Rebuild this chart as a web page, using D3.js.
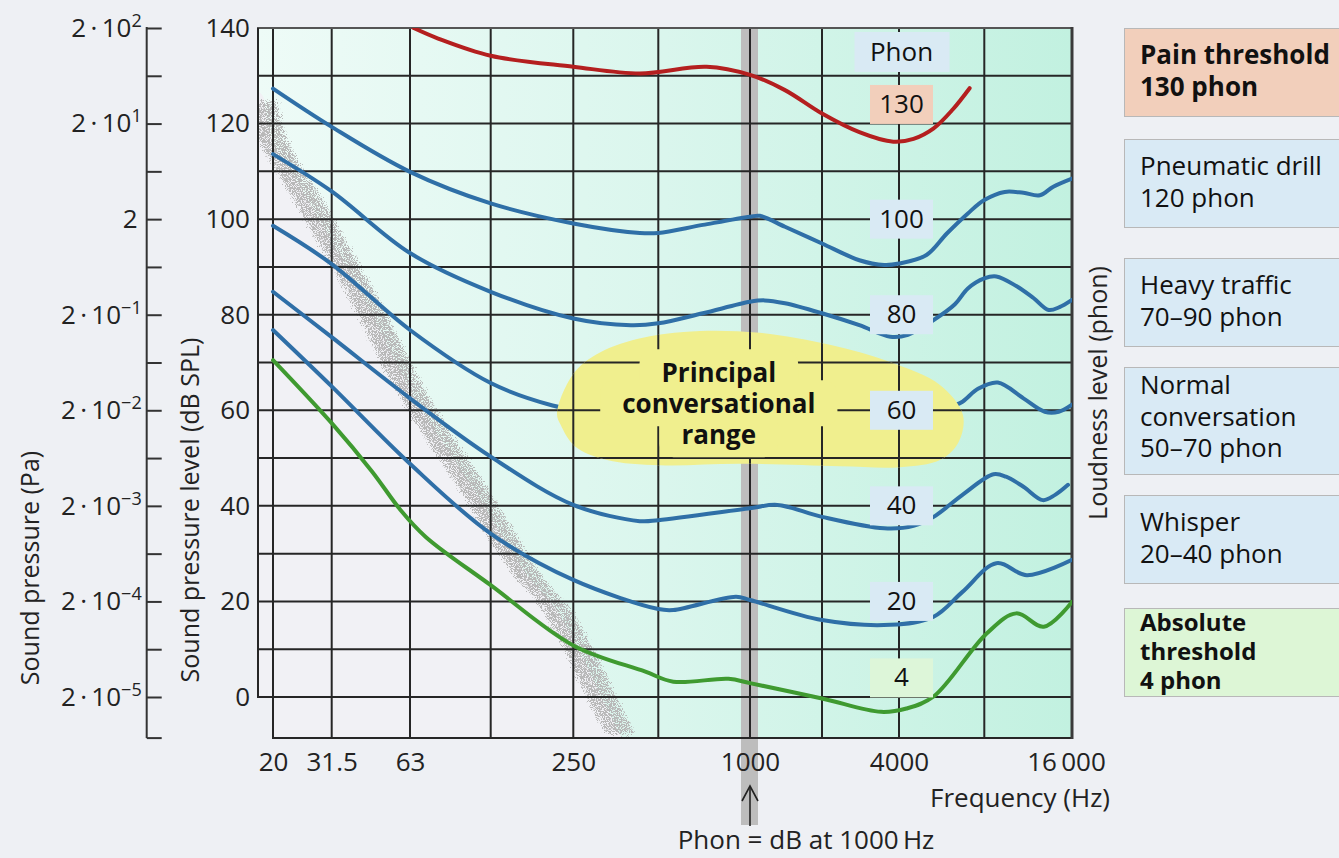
<!DOCTYPE html>
<html>
<head>
<meta charset="utf-8">
<script src="https://cdn.jsdelivr.net/npm/d3@7"></script>
<style>
html, body { margin: 0; padding: 0; background: #eef0f4; }
svg { display: block; font-family: "Open Sans", sans-serif; }
</style>
</head>
<body>
<div id="chart"></div>
<script>
// frequency grid (Hz) and the ones that get a label
const freqTicks = [20, 31.5, 63, 125, 250, 500, 1000, 2000, 4000, 8000, 16000];
const freqLabels = [20, 31.5, 63, 250, 1000, 4000, 16000];
const dbLabels = [0, 20, 40, 60, 80, 100, 120, 140];
const dbGrid = d3.range(0, 131, 10);

// equal loudness contours, [frequency Hz, dB SPL]
const phon130 = [[65, 140], [80, 137.8], [125, 134.2], [250, 131.9], [430, 130.5], [720, 131.9], [1000, 130.2],
  [1400, 127], [2000, 122.1], [2800, 118.2], [3800, 116.2], [4500, 116.8], [5300, 119], [6200, 123], [7100, 127.4]];
const phon100 = [[20, 127.3], [31.5, 119.3], [63, 109.9], [125, 103.3], [250, 99.1], [430, 97.1], [500, 97.1],
  [700, 98.8], [1000, 100.5], [1100, 100.7], [1400, 98.4], [2000, 94.9], [2800, 91.4], [3500, 90.4], [4000, 90.7],
  [5000, 92.5], [5900, 97], [7000, 101.2], [8000, 104], [9400, 105.7], [10900, 105.5], [12400, 105],
  [13800, 106.8], [16000, 108.5]];
const phon80 = [[20, 113.6], [31.5, 105.8], [63, 92.9], [125, 84.8], [250, 79.2], [400, 77.8], [500, 78.2],
  [700, 80.3], [1000, 82.7], [1150, 83], [1400, 82.4], [2000, 80.3], [2800, 77.8], [3700, 75.4], [4300, 75.8],
  [5300, 78.9], [6300, 82.2], [7000, 85.5], [8000, 87.6], [8800, 88], [10300, 86], [11800, 83.5], [13300, 81],
  [14500, 81.6], [16000, 83.1]];
const phon60 = [[20, 98.6], [31.5, 90.6], [63, 76.8], [125, 65.7], [210, 61], [250, 60.2], [400, 58.6], [600, 58.4],
  [1000, 60], [1400, 60.5], [2000, 58.6], [3000, 56], [4000, 55.4], [5000, 57.5], [6000, 60.5], [6700, 61.8],
  [7600, 64.5], [8900, 65.8], [10900, 62.5], [12900, 59.7], [14400, 59.7], [16000, 61.2]];
const phon40 = [[20, 84.8], [31.5, 75.3], [63, 62.5], [125, 50.3], [250, 40.2], [430, 36.8], [500, 37], [1000, 39.5],
  [1300, 40.2], [2000, 37.7], [3500, 35.3], [4500, 35.8], [5300, 37.7], [6700, 42.3], [8600, 46.6], [9500, 46.1],
  [10900, 44], [12700, 41.2], [14000, 42.3], [15500, 44.4]];
const phon20 = [[20, 76.8], [31.5, 65], [63, 48.8], [125, 34.2], [250, 24.5], [500, 18.4], [560, 18.2], [900, 21],
  [1000, 20.3], [2000, 16.1], [3700, 15.1], [5300, 16.8], [6700, 22], [8800, 28], [11200, 25.5], [16000, 28.7]];
const phon4 = [[20, 70.5], [31.5, 57.3], [45, 47.2], [58, 39.1], [72, 33.5], [125, 23.4], [250, 10.8], [450, 5.3],
  [560, 3.2], [850, 3.8], [1000, 2.9], [2000, -0.3], [3400, -3.1], [4250, -2.4], [5300, 0.1], [8150, 13.3],
  [10300, 17.5], [12800, 14.7], [16000, 19.9]];

const phonLevels = [130, 100, 80, 60, 40, 20, 4];

// scattered band of the hearing threshold, centre line [Hz, dB]
const bandCenter = [[18.4, 126], [19.5, 118], [26.2, 104], [42.1, 83.1], [66.3, 62.1], [103, 45.4], [175, 24.5],
  [205, 20.3], [258, 10.5], [310, 0.8], [375, -9]];

// outline of the "principal conversational range" patch [Hz, dB]
const speechArea = [[218, 59.4], [253, 68], [323, 72.6], [467, 75.5], [685, 76.6], [1101, 76.2], [2148, 73.7],
  [3690, 70.1], [5580, 65.3], [6727, 59], [6460, 53.1], [5580, 49.6], [4030, 48.1], [2352, 48.3], [926, 48.8],
  [506, 48.5], [329, 49.6], [253, 52.5], [225, 56.9]];

const sideNotes = [
  ["Pain threshold", "130 phon"],
  ["Pneumatic drill", "120 phon"],
  ["Heavy traffic", "70–90 phon"],
  ["Normal", "conversation", "50–70 phon"],
  ["Whisper", "20–40 phon"],
  ["Absolute", "threshold", "4 phon"]
];

const W = 1339, H = 858;
const svg = d3.select("#chart").append("svg").attr("width", W).attr("height", H);

// the printed frequency axis is not perfectly logarithmic, so use a piecewise log scale
const x = d3.scaleLog().domain(freqTicks)
  .range([273, 331.7, 410, 490.7, 573.3, 658.3, 750, 822, 899, 984.3, 1072]);
const y = d3.scaleLinear().domain([0, 140]).range([697, 28]);

const xLeft = 258, xRight = x(16000), x20 = x(20);
const yTop = y(140), yZero = y(0), yBottom = y(-8.6);
const ink = "#262626";

svg.append("rect").attr("width", W).attr("height", H).attr("fill", "#eef0f4");

const defs = svg.append("defs");
const grad = defs.append("linearGradient").attr("id", "plotGrad")
  .attr("gradientUnits", "userSpaceOnUse").attr("x1", xLeft).attr("x2", xRight).attr("y1", 0).attr("y2", 0);
grad.append("stop").attr("offset", "0").attr("stop-color", "#eefbf7");
grad.append("stop").attr("offset", "0.5").attr("stop-color", "#daf6ed");
grad.append("stop").attr("offset", "1").attr("stop-color", "#c2f1e0");

const outline = [[xLeft, yTop], [xRight, yTop], [xRight, yBottom], [x20, yBottom], [x20, yZero], [xLeft, yZero]];
defs.append("clipPath").attr("id", "plotClip").append("polygon").attr("points", outline.join(" "));

// speckle texture for the threshold band
const f = defs.append("filter").attr("id", "speckle").attr("filterUnits", "userSpaceOnUse")
  .attr("x", 200).attr("y", 0).attr("width", 520).attr("height", 800)
  .attr("color-interpolation-filters", "sRGB");
f.append("feGaussianBlur").attr("in", "SourceAlpha").attr("stdDeviation", 5).attr("result", "soft");
f.append("feTurbulence").attr("type", "fractalNoise").attr("baseFrequency", 1.2)
  .attr("numOctaves", 1).attr("seed", 7).attr("result", "noise");
f.append("feColorMatrix").attr("in", "noise").attr("type", "matrix")
  .attr("values", "0 0 0 0 0  0 0 0 0 0  0 0 0 0 0  1 0 0 0 0").attr("result", "na");
f.append("feComposite").attr("in", "soft").attr("in2", "na").attr("operator", "arithmetic")
  .attr("k1", 0).attr("k2", 1).attr("k3", 1).attr("k4", -1.42).attr("result", "sum");
f.append("feColorMatrix").attr("in", "sum").attr("type", "matrix")
  .attr("values", "0 0 0 0 0.72  0 0 0 0 0.72  0 0 0 0 0.72  0 0 0 14 0");

const smooth = d3.line().curve(d3.curveCatmullRom.alpha(0.5));
const back = svg.append("g").attr("clip-path", "url(#plotClip)");

back.append("polygon").attr("points", outline.join(" ")).attr("fill", "url(#plotGrad)");

const bandPx = bandCenter.map(d => [x(d[0]), y(d[1])]);
back.append("path")
  .attr("d", smooth([[xLeft - 6, bandPx[0][1] - 6], ...bandPx]) + `L${xLeft - 6},${yBottom + 6}Z`)
  .attr("fill", "#f1f1f5");
back.append("path")
  .attr("d", smooth(bandPx.map(p => [p[0] - 21, p[1]])) +
    smooth(bandPx.map(p => [p[0] + 21, p[1]]).reverse()).replace("M", "L") + "Z")
  .attr("fill", "#000").attr("filter", "url(#speckle)");

// grey marker at 1000 Hz
svg.append("rect").attr("x", x(1000) - 9).attr("y", yTop).attr("width", 17).attr("height", 825 - yTop)
  .attr("fill", "#bdbdbd");

function drawGrid(g) {
  g.selectAll(".vg").data(freqTicks).join("line").attr("class", "vg")
    .attr("x1", d => x(d)).attr("x2", d => x(d)).attr("y1", yTop).attr("y2", yBottom)
    .attr("stroke", ink).attr("stroke-width", 2);
  g.selectAll(".hg").data(dbGrid).join("line").attr("class", "hg")
    .attr("x1", xLeft).attr("x2", xRight).attr("y1", d => y(d)).attr("y2", d => y(d))
    .attr("stroke", ink).attr("stroke-width", 2);
}
const grid = svg.append("g");
drawGrid(grid);
grid.append("line").attr("x1", xLeft - 1).attr("x2", xRight).attr("y1", yTop).attr("y2", yTop)
  .attr("stroke", "#555").attr("stroke-width", 2);
grid.append("line").attr("x1", xLeft).attr("x2", xLeft).attr("y1", yTop).attr("y2", yZero + 1)
  .attr("stroke", ink).attr("stroke-width", 2);
grid.append("line").attr("x1", x20 - 1).attr("x2", xRight).attr("y1", yBottom).attr("y2", yBottom)
  .attr("stroke", ink).attr("stroke-width", 2);
grid.append("line").attr("x1", xRight).attr("x2", xRight).attr("y1", yTop - 1).attr("y2", yBottom + 1)
  .attr("stroke", "#3a3a3a").attr("stroke-width", 3);

// contours
const contours = [
  { data: phon130, color: "#b41f1f" },
  { data: phon100, color: "#2f6fa7" },
  { data: phon80, color: "#2f6fa7" },
  { data: phon60, color: "#2f6fa7" },
  { data: phon40, color: "#2f6fa7" },
  { data: phon20, color: "#2f6fa7" },
  { data: phon4, color: "#3f9a30" }
];
const curve = d3.line().x(d => x(d[0])).y(d => y(d[1])).curve(d3.curveCatmullRom.alpha(0.5));
svg.append("g").attr("clip-path", "url(#plotClip)")
  .selectAll(".contour").data(contours).join("path").attr("class", "contour")
  .attr("d", d => curve(d.data)).attr("fill", "none").attr("stroke", d => d.color)
  .attr("stroke-width", 4).attr("stroke-linecap", "round");

// conversational range patch
const patch = d3.line().x(d => x(d[0])).y(d => y(d[1])).curve(d3.curveCatmullRomClosed.alpha(0.5));
const yellow = "#f0ef8e";
svg.append("path").attr("d", patch(speechArea)).attr("fill", yellow);
defs.append("clipPath").attr("id", "patchClip").append("path").attr("d", patch(speechArea));
drawGrid(svg.append("g").attr("clip-path", "url(#patchClip)"));

// label of the patch, with a yellow knock-out behind each line
const patchLines = ["Principal", "conversational", "range"];
const knock = svg.append("g");
const patchLabel = svg.append("text").attr("text-anchor", "middle").attr("font-weight", "bold")
  .attr("font-size", 26).attr("fill", "#111");
patchLines.forEach((l, i) => {
  const t = patchLabel.append("tspan").attr("x", x(790)).attr("y", y(59.4) + (i - 1) * 31).text(l);
  const b = t.node().getBBox();
  knock.append("rect").attr("x", b.x - 22).attr("y", b.y - 5).attr("width", b.width + 44)
    .attr("height", b.height + 10).attr("rx", 14).attr("fill", yellow);
});

// phon tags along 4000 Hz
const tagX = x(4000) + 2.5;
svg.append("rect").attr("x", tagX - 47).attr("y", 32).attr("width", 95).attr("height", 40).attr("fill", "#d9eaf4");
svg.append("text").attr("x", tagX).attr("y", 61).attr("text-anchor", "middle").attr("font-size", 26)
  .attr("fill", "#111").text("Phon");
const tagDb = v => Math.min(v, 124); // the 130 tag sits just inside the top of the grid
const tags = svg.selectAll(".tag").data(phonLevels).join("g").attr("class", "tag")
  .attr("transform", d => `translate(${tagX},${y(tagDb(d))})`);
tags.append("rect").attr("x", -31.5).attr("y", -19.5).attr("width", 63).attr("height", 39)
  .attr("fill", d => d === 130 ? "#f2cfbb" : d === 4 ? "#ddf6d9" : "#d9eaf4");
tags.append("text").attr("text-anchor", "middle").attr("y", 8.5).attr("font-size", 26).attr("fill", "#111")
  .text(d => d);

// dB SPL axis labels
const yAxis = svg.append("g").attr("transform", `translate(${xLeft},0)`)
  .call(d3.axisLeft(y).tickValues(dbLabels).tickSize(0).tickPadding(8));
yAxis.select(".domain").remove();
yAxis.selectAll("text").attr("font-size", 26).attr("font-family", "Open Sans").attr("fill", "#222");

// frequency axis labels
const xAxis = svg.append("g").attr("transform", `translate(0,${yBottom})`)
  .call(d3.axisBottom(x).tickValues(freqLabels).tickSize(0).tickPadding(14)
    .tickFormat(d => d === 16000 ? "16\u2009000" : String(d)));
xAxis.select(".domain").remove();
xAxis.selectAll("text").attr("font-size", 26).attr("font-family", "Open Sans").attr("fill", "#222")
  .attr("dx", d => d === 16000 ? -6 : 0);

// sound pressure axis (Pa)
const paX = 146.7;
const pa = svg.append("g").attr("transform", `translate(${paX},0)`)
  .call(d3.axisLeft(y).tickValues(d3.range(0, 141, 10)).tickSizeInner(-15).tickSizeOuter(0)
    .tickPadding(5).tickFormat(() => ""));
pa.select(".domain").remove();
pa.selectAll(".tick line").attr("stroke", "#333").attr("stroke-width", 2);
pa.append("line").attr("y1", yTop - 1).attr("y2", yBottom).attr("stroke", "#333").attr("stroke-width", 2);
pa.append("line").attr("x2", 15).attr("y1", yBottom).attr("y2", yBottom).attr("stroke", "#333").attr("stroke-width", 2);
pa.selectAll(".tick text").attr("font-size", 26).attr("font-family", "Open Sans").attr("fill", "#222")
  .each(function (d) {
    if (d % 20 !== 0) return;
    const k = d / 20 - 5; // p = 2·10^-5 Pa · 10^(dB/20)
    const t = d3.select(this);
    if (k === 0) { t.text("2").attr("dx", -4); return; }
    t.append("tspan").text("2\u2009·\u200910");
    t.append("tspan").attr("font-size", 18).attr("dy", "-0.55em").text(String(k).replace("-", "\u2212"));
  });

// axis titles
const title = (tx, ty, txt) => svg.append("text").attr("transform", `translate(${tx},${ty}) rotate(-90)`)
  .attr("text-anchor", "middle").attr("font-size", 25).attr("fill", "#222").text(txt);
title(39, 568, "Sound pressure (Pa)");
title(199, 510, "Sound pressure level (dB SPL)");
title(1107, 393, "Loudness level (phon)");
svg.append("text").attr("x", 1110).attr("y", 807).attr("text-anchor", "end").attr("font-size", 26)
  .attr("fill", "#222").text("Frequency (Hz)");

// arrow to the 1000 Hz reference and its note
const ax = x(1000);
svg.append("line").attr("x1", ax).attr("x2", ax).attr("y1", 826).attr("y2", 787)
  .attr("stroke", "#222").attr("stroke-width", 1.6);
svg.append("path").attr("d", `M${ax - 8},${801}L${ax},${786}L${ax + 8},${801}`)
  .attr("fill", "none").attr("stroke", "#222").attr("stroke-width", 1.6);
svg.append("text").attr("x", 806).attr("y", 849).attr("text-anchor", "middle").attr("font-size", 26)
  .attr("fill", "#222").text("Phon = dB at 1000\u2009Hz");

// side notes
const noteTops = [28, 139, 258, 367, 495, 608];
const noteFill = ["#f2cfbb", "#d9eaf5", "#d9eaf5", "#d9eaf5", "#d9eaf5", "#ddf6d6"];
sideNotes.forEach((lines, i) => {
  const bold = i === 0 || i === 5;
  const tight = i === 5;
  const h = lines.length === 3 && !tight ? 107 : 88;
  const g = svg.append("g").attr("transform", `translate(1124,${noteTops[i]})`);
  g.append("rect").attr("x", 0.5).attr("y", 0.5).attr("width", 240).attr("height", h)
    .attr("fill", noteFill[i]).attr("stroke", "#b8b8b8").attr("stroke-width", 1);
  const first = tight ? 23 : lines.length === 3 ? 27 : 36;
  const step = tight ? 29 : 31.5;
  const t = g.append("text").attr("font-size", tight ? 24 : 26).attr("fill", "#111")
    .attr("font-weight", bold ? "bold" : "normal");
  lines.forEach((l, j) => t.append("tspan").attr("x", 16).attr("y", first + j * step).text(l));
});
</script>
</body>
</html>
